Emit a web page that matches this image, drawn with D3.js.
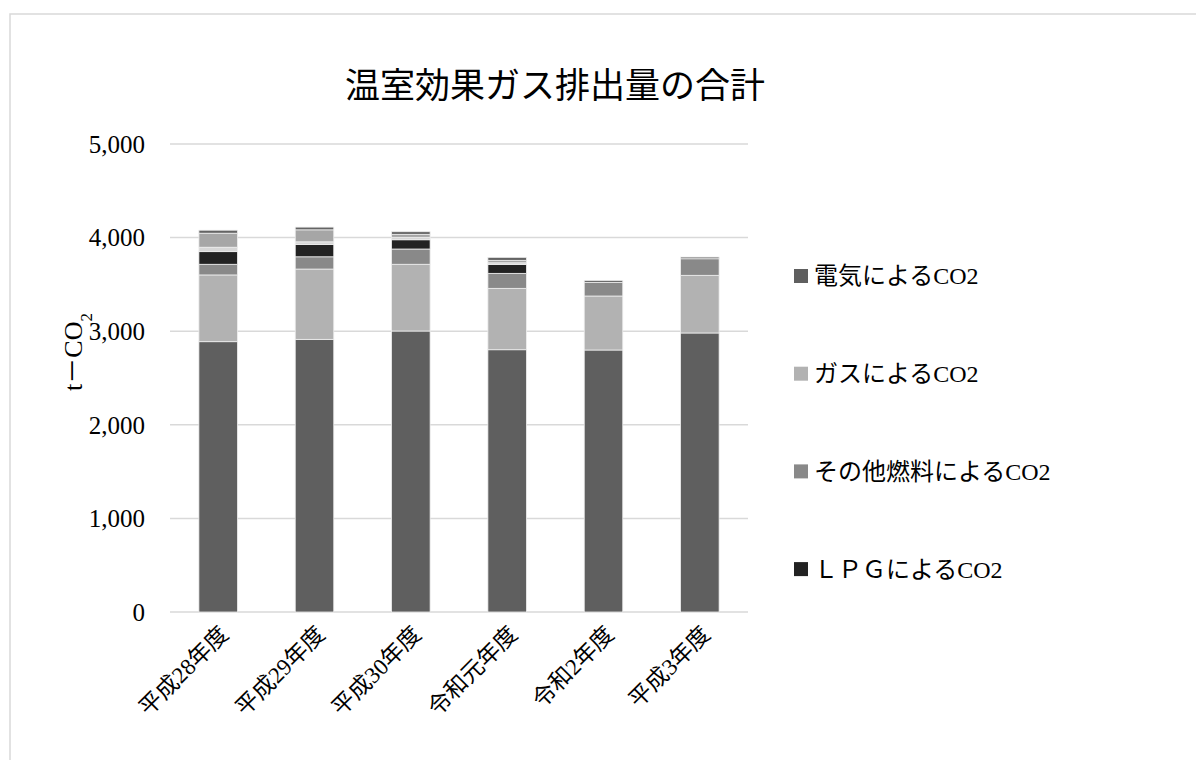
<!DOCTYPE html>
<html>
<head>
  <meta charset="utf-8">
  <title>温室効果ガス排出量の合計</title>
  <script src="https://d3js.org/d3.v7.min.js"></script>
  <style type="text/css">
    body { margin: 0; background: #fff; }
    svg text { font-family: "Liberation Serif", "Noto Sans CJK JP", serif; fill: #000; }
  </style>
</head>
<body>
  <div id="chart"></div>
<script type="text/javascript">
  // values (t-CO2)
  const years = ['平成28年度', '平成29年度', '平成30年度', '令和元年度', '令和2年度', '平成3年度'];
  const electric = [2888, 2913, 3002, 2802, 2799, 2981];
  const gas      = [713, 751, 713, 656, 577, 616];
  const otherFuel = [114, 131, 163, 160, 146, 177];
  const lpg      = [135, 132, 99, 96, 0, 0];
  // extra thin series on top of the bars, not listed in the legend
  const extraA   = [47, 28, 26, 17, 0, 0];
  const extraB   = [150, 128, 32, 26, 0, 0];
  const extraC   = [32, 29, 28, 32, 21, 18];
  const yTicks = [0, 1000, 2000, 3000, 4000, 5000];

  const seriesNames = ['電気によるCO2', 'ガスによるCO2', 'その他燃料によるCO2', 'ＬＰＧによるCO2', 'extraA', 'extraB', 'extraC'];
  const seriesColors = ['#5f5f5f', '#b2b2b2', '#898989', '#222222', '#d6d6d6', '#a6a6a6', '#646464'];
  const legendCount = 4;

  const width = 1196, height = 760;
  const plot = { left: 170, right: 748, top: 144, bottom: 612 };

  const rows = years.map((y, i) => ({
    year: y,
    s0: electric[i], s1: gas[i], s2: otherFuel[i], s3: lpg[i],
    s4: extraA[i], s5: extraB[i], s6: extraC[i]
  }));
  const keys = ['s0', 's1', 's2', 's3', 's4', 's5', 's6'];
  const stacked = d3.stack().keys(keys)(rows);

  const svg = d3.select('#chart').append('svg')
    .attr('width', width)
    .attr('height', height);

  // chart frame
  svg.append('rect')
    .attr('x', 10).attr('y', 14)
    .attr('width', 1240).attr('height', 800)
    .attr('fill', 'none')
    .attr('stroke', '#d9d9d9')
    .attr('stroke-width', 1.5);

  const x = d3.scaleBand()
    .domain(years)
    .range([plot.left, plot.right])
    .paddingInner(0.6)
    .paddingOuter(0.3);

  const y = d3.scaleLinear()
    .domain([0, 5000])
    .range([plot.bottom, plot.top]);

  // gridlines
  svg.append('g').selectAll('line').data(yTicks).enter()
    .append('line')
      .attr('x1', plot.left).attr('x2', plot.right)
      .attr('y1', d => y(d)).attr('y2', d => y(d))
      .attr('stroke', '#d9d9d9')
      .attr('stroke-width', 1.5);

  // y tick labels
  svg.append('g').selectAll('text').data(yTicks).enter()
    .append('text')
      .attr('x', 145)
      .attr('y', d => y(d))
      .attr('dy', '0.35em')
      .attr('text-anchor', 'end')
      .attr('font-size', 25)
      .text(d => d3.format(',')(d));

  // stacked bars
  svg.append('g').selectAll('g').data(stacked).enter()
    .append('g')
      .attr('fill', (d, i) => seriesColors[i])
    .selectAll('rect').data(d => d).enter()
    .append('rect')
      .attr('x', d => x(d.data.year))
      .attr('width', x.bandwidth())
      .attr('y', d => y(d[1]))
      .attr('height', d => Math.max(0, y(d[0]) - y(d[1])))
      .attr('stroke', '#eeeeee')
      .attr('stroke-width', d => (d[1] - d[0]) > 0 ? 0.8 : 0);

  // x labels
  svg.append('g').selectAll('text').data(years).enter()
    .append('text')
      .attr('transform', d => `translate(${x(d) + x.bandwidth() / 2 + 6},${plot.bottom + 18}) rotate(-45)`)
      .attr('text-anchor', 'end')
      .attr('dy', '0.35em')
      .attr('font-size', 23)
      .text(d => d);

  // y axis title
  const yTitle = svg.append('text')
    .attr('transform', 'translate(82,352) rotate(-90)')
    .attr('text-anchor', 'middle')
    .attr('font-size', 26);
  yTitle.append('tspan').text('t－CO');
  yTitle.append('tspan')
    .attr('baseline-shift', 'sub')
    .attr('font-size', 17)
    .text('2');

  // title
  svg.append('text')
    .attr('x', 555)
    .attr('y', 98)
    .attr('text-anchor', 'middle')
    .attr('font-size', 35)
    .text('温室効果ガス排出量の合計');

  // legend
  const legend = svg.append('g').selectAll('g')
    .data(seriesNames.slice(0, legendCount)).enter()
    .append('g')
      .attr('transform', (d, i) => `translate(794,${276 + i * 97.7})`);
  legend.append('rect')
    .attr('x', 0).attr('y', -7)
    .attr('width', 14).attr('height', 14)
    .attr('fill', (d, i) => seriesColors[i]);
  legend.append('text')
    .attr('x', 20)
    .attr('dy', '0.35em')
    .attr('font-size', 24)
    .text(d => d);
</script>
</body>
</html>
